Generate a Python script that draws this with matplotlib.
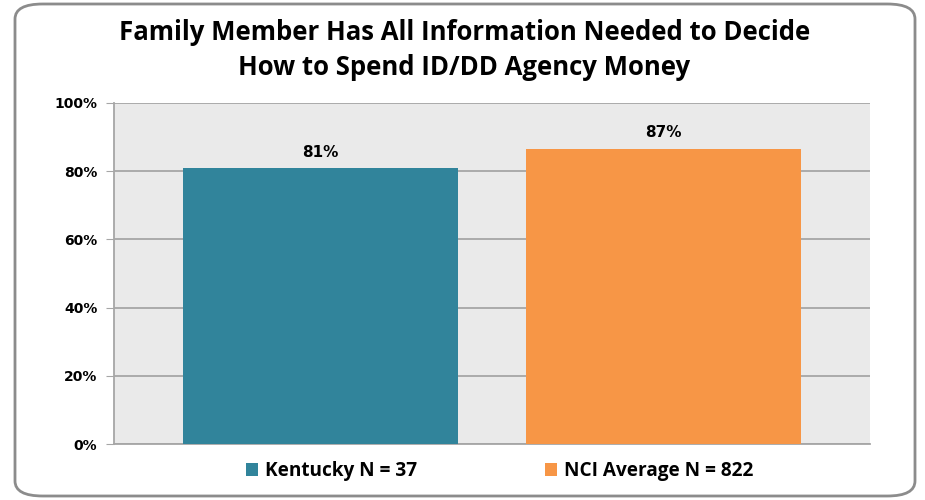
import matplotlib.pyplot as plt
from matplotlib.patches import FancyBboxPatch, Patch

# chart data
categories = ['Kentucky N = 37', 'NCI Average N = 822']
values = [80.9, 86.6]
bar_colors = ['#31849B', '#F79646']
yticks = [0, 20, 40, 60, 80, 100]

fig = plt.figure(figsize=(9.25, 5), dpi=100)
ax = fig.add_axes([114 / 925, 1 - 444 / 500, 756 / 925, 341 / 500])

# rounded outer frame
frame = FancyBboxPatch((15 / 925, 4 / 500), 900 / 925, 492 / 500,
                       boxstyle='round,pad=0,rounding_size=0.03',
                       transform=fig.transFigure, facecolor='none',
                       edgecolor='#8C8C8C', linewidth=2, zorder=0)
fig.patches.append(frame)

ax.set_facecolor('#EAEAEA')
x = range(len(categories))
bars = ax.bar(x, values, width=0.8, color=bar_colors, zorder=3)

for b, v in zip(bars, values):
    ax.text(b.get_x() + b.get_width() / 2, v + 2.5, f'{v:.0f}%', ha='center', va='bottom',
            fontsize=11, fontweight='bold', family='DejaVu Sans')

ax.set_xlim(-0.6, 1.6)
ax.set_ylim(0, 100)
ax.set_yticks(yticks)
ax.set_yticklabels([f'{t}%' for t in yticks], fontsize=10, fontweight='bold', family='DejaVu Sans')
ax.set_xticks([])
ax.yaxis.grid(True, color='#A6A6A6', linewidth=1.3, zorder=1)
ax.set_axisbelow(True)
ax.tick_params(axis='y', length=6, color='#A6A6A6', pad=6)
for s in ['top', 'right']:
    ax.spines[s].set_visible(False)
for s in ['left', 'bottom']:
    ax.spines[s].set_color('#A6A6A6')
    ax.spines[s].set_linewidth(1.3)

fig.text(0.502, 1 - 50 / 500, 'Family Member Has All Information Needed to Decide\nHow to Spend ID/DD Agency Money',
         ha='center', va='center', fontsize=18.5, fontweight='bold', family='Open Sans', linespacing=1.35)

handles = [Patch(facecolor=c, edgecolor='none') for c in bar_colors]
fig.legend(handles, categories, loc='center', bbox_to_anchor=(0.54, 1 - 471 / 500), ncol=2,
           frameon=False, prop={'family': 'Open Sans', 'weight': 'bold', 'size': 13.7},
           handlelength=0.65, handleheight=0.65, handletextpad=0.35, columnspacing=6.7)

fig.savefig('out.png', dpi=100)
